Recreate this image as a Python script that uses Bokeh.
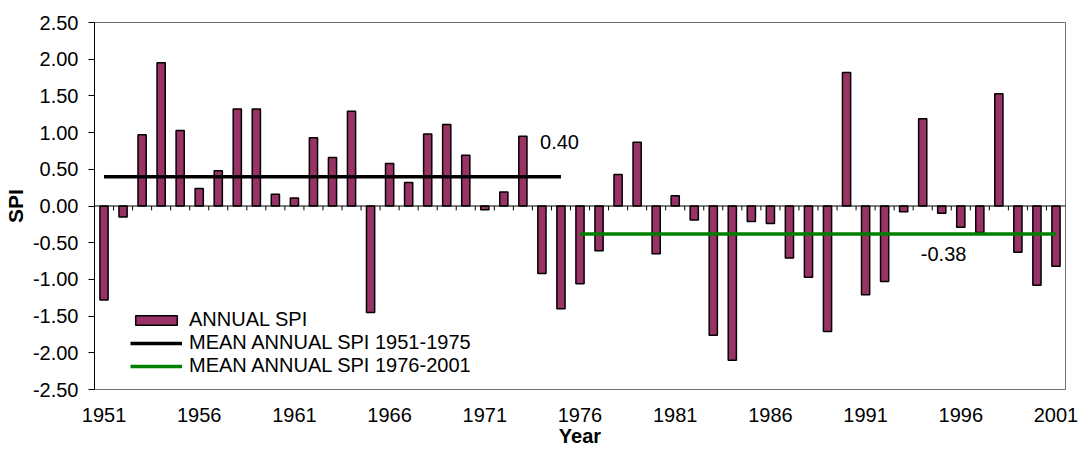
from bokeh.plotting import figure
from bokeh.models import (Range1d, FixedTicker, NumeralTickFormatter, Span, Legend,
                          LegendItem, Label)
from bokeh.embed import file_html
from bokeh.resources import INLINE

# ---------------- data ----------------
years = list(range(1951, 2002))
spi = [-1.28, -0.15, 0.97, 1.95, 1.03, 0.24, 0.48, 1.32, 1.32, 0.16,
       0.11, 0.93, 0.66, 1.29, -1.45, 0.58, 0.32, 0.98, 1.11, 0.69,
       -0.05, 0.19, 0.95, -0.92, -1.40, -1.06, -0.61, 0.43, 0.87, -0.65,
       0.14, -0.19, -1.76, -2.10, -0.21, -0.24, -0.71, -0.97, -1.71, 1.82,
       -1.21, -1.03, -0.08, 1.19, -0.10, -0.29, -0.36, 1.53, -0.63, -1.08,
       -0.82]
period1 = [1951, 1975]
period2 = [1976, 2001]
mean1 = 0.40
mean2 = -0.38
x_ticks = [1951, 1956, 1961, 1966, 1971, 1976, 1981, 1986, 1991, 1996, 2001]
y_ticks = [-2.5, -2.0, -1.5, -1.0, -0.5, 0.0, 0.5, 1.0, 1.5, 2.0, 2.5]

FONT = "Liberation Sans"
BAR = "#993366"
GREEN = "#008000"

p = figure(width=1081, height=449, output_backend="svg", toolbar_location=None,
           x_range=Range1d(years[0] - 0.5, years[-1] + 0.5),
           y_range=Range1d(y_ticks[0], y_ticks[-1]),
           min_border_left=92, min_border_right=16, min_border_top=22,
           min_border_bottom=58)
p.xgrid.visible = False
p.ygrid.visible = False
p.outline_line_color = "#6e6e6e"
p.outline_line_width = 1
p.background_fill_color = "white"
p.border_fill_color = "white"

# zero line with category ticks
p.add_layout(Span(location=0, dimension="width", line_color="black", line_width=1))
bounds = [y + 0.5 for y in years[:-1]]
p.segment(x0=bounds, y0=[0] * len(bounds), x1=bounds, y1=[-0.06] * len(bounds),
          line_color="black", line_width=1)

bars = p.vbar(x=years, top=spi, bottom=0, width=0.43, fill_color=BAR,
              line_color="black", line_width=1.5)
l1 = p.line(x=period1, y=[mean1, mean1], line_color="black", line_width=3.5)
l2 = p.line(x=period2, y=[mean2, mean2], line_color=GREEN, line_width=3.5)

# axes
xa = p.xaxis[0]
xa.ticker = FixedTicker(ticks=x_ticks)
xa.axis_line_color = None
xa.major_tick_line_color = None
xa.minor_tick_line_color = None
xa.major_label_text_font = FONT
xa.major_label_text_font_size = "20px"
xa.major_label_text_color = "black"
xa.major_label_standoff = 12
xa.axis_label = "Year"
xa.axis_label_text_font = FONT
xa.axis_label_text_font_size = "20px"
xa.axis_label_text_font_style = "bold"
xa.axis_label_text_color = "black"
xa.axis_label_standoff = 0

ya = p.yaxis[0]
ya.ticker = FixedTicker(ticks=y_ticks)
ya.formatter = NumeralTickFormatter(format="0.00")
ya.axis_line_color = "black"
ya.major_tick_line_color = "black"
ya.major_tick_out = 6
ya.major_tick_in = 0
ya.minor_tick_line_color = None
ya.major_label_text_font = FONT
ya.major_label_text_font_size = "20px"
ya.major_label_text_color = "black"
ya.major_label_standoff = 10
ya.axis_label = "SPI"
ya.axis_label_text_font = FONT
ya.axis_label_text_font_size = "21px"
ya.axis_label_text_font_style = "bold"
ya.axis_label_text_color = "black"
ya.axis_label_standoff = 3

# mean value labels
p.add_layout(Label(x=1973.9, y=mean1 + 0.47, text=f"{mean1:.2f}", text_font=FONT,
                   text_font_size="20px", text_color="black", text_baseline="middle"))
p.add_layout(Label(x=1993.9, y=mean2 - 0.28, text=f"{mean2:.2f}", text_font=FONT,
                   text_font_size="20px", text_color="black", text_baseline="middle"))

legend = Legend(items=[LegendItem(label="ANNUAL SPI", renderers=[bars]),
                       LegendItem(label="MEAN ANNUAL SPI 1951-1975", renderers=[l1]),
                       LegendItem(label="MEAN ANNUAL SPI 1976-2001", renderers=[l2])],
                location=(36, 12), padding=0, margin=0, spacing=0,
                glyph_width=52, glyph_height=12, label_height=20, label_standoff=7,
                label_text_font=FONT, label_text_font_size="20px",
                label_text_color="black", background_fill_alpha=0,
                border_line_alpha=0)
p.add_layout(legend)

open("out.html", "w").write(file_html(p, INLINE))
